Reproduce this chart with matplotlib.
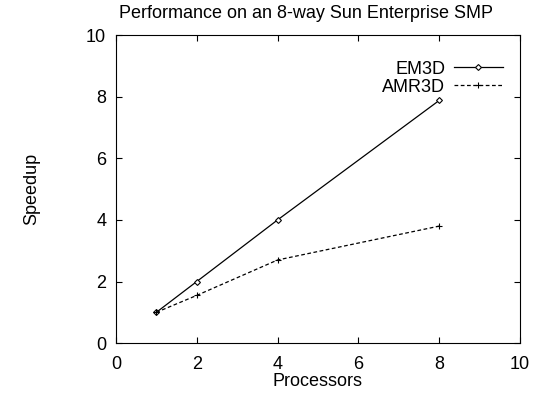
import numpy as np
import matplotlib.pyplot as plt

plt.rcParams['font.family'] = ['Liberation Sans', 'DejaVu Sans']

processors = [1, 2, 4, 8]
em3d = [1.0, 2.0, 4.0, 7.88]
amr3d = [1.0, 1.55, 2.7, 3.8]

fig = plt.figure(figsize=(5.34, 3.94), dpi=100)
ax = fig.add_axes([0.217, 0.129, 0.757, 0.782])

ax.plot(processors, em3d, '-', color='black', lw=0.9, marker='D', ms=3,
        mfc='white', mec='black', mew=0.8, label='EM3D')
ax.plot(processors, amr3d, '--', color='black', lw=0.9, dashes=(3, 2), marker='+',
        ms=5, mew=0.8, label='AMR3D')

ax.set_xlim(0, 10)
ax.set_ylim(0, 10)
ax.set_xticks(np.arange(0, 11, 2))
ax.set_yticks(np.arange(0, 11, 2))
ax.tick_params(direction='in', top=True, right=True, labelsize=13, length=4)
ax.tick_params(axis='x', pad=9)
ax.tick_params(axis='y', pad=7)
ax.set_xlabel('Processors', fontsize=13, labelpad=0)
ax.set_ylabel('Speedup', fontsize=13, labelpad=33)
ax.set_title('Performance on an 8-way Sun Enterprise SMP', fontsize=13, pad=12, x=0.47)
ax.legend(loc='upper right', bbox_to_anchor=(0.975, 0.94), frameon=False, fontsize=13,
          markerfirst=False, handlelength=2.7, borderaxespad=0, labelspacing=0.05,
          handletextpad=0.5)

plt.savefig('out.png', dpi=100)
